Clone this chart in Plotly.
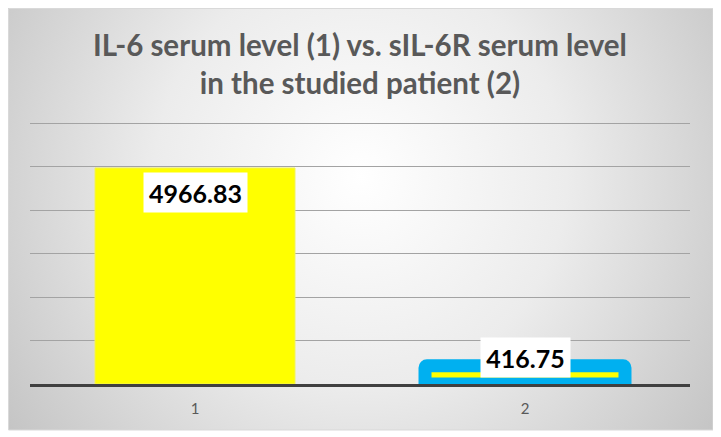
import plotly.graph_objects as go

# data
categories = ["1", "2"]
values = [4966.83, 416.75]
value_labels = ["4966.83", "416.75"]
title_lines = ["IL-6 serum level (1) vs. sIL-6R serum level", "in the studied patient (2)"]

W, H = 721, 437
OFF = 8  # the page body has an 8px margin, so shift everything by it


def px_x(p):
    return (p - OFF) / W


def px_y(p):
    # pixel from top of window -> paper fraction from bottom
    return 1 - (p - OFF) / H


fig = go.Figure()

# background panel with a radial grey gradient (own full-size axes, drawn first)
fig.add_trace(go.Scatter(
    x=[-0.15, 1.15, 1.15, -0.15, -0.15],
    y=[-0.5, -0.5, 1.7, 1.7, -0.5],
    mode="lines", line=dict(width=0), fill="toself",
    fillgradient=dict(type="radial",
                      colorscale=[[0, "#ffffff"], [0.45, "#ececec"], [1, "#c0c0c0"]]),
    hoverinfo="skip", showlegend=False, xaxis="x", yaxis="y",
))

# bars
fig.add_trace(go.Bar(
    x=[categories[0]], y=[values[0]], xaxis="x2", yaxis="y2",
    marker=dict(color="#ffff00", line=dict(color="#f2f25a", width=1)),
    showlegend=False, hoverinfo="x+y",
))
fig.add_trace(go.Bar(
    x=[categories[1]], y=[values[1]], xaxis="x2", yaxis="y2",
    marker=dict(color="#ffff00", line=dict(color="#00b0f0", width=13), cornerradius=2),
    showlegend=False, hoverinfo="x+y",
))

# data labels in white boxes
shifts = [-25, 8]
widths = [103, 89]
for i, (v, t, s, w) in enumerate(zip(values, value_labels, shifts, widths)):
    fig.add_annotation(
        x=i, y=v, xref="x2", yref="y2", text="<b>%s</b>" % t, showarrow=False,
        yshift=s, bgcolor="#ffffff", width=w, height=39, borderpad=0,
        font=dict(family="Lato", size=25, color="#000000"),
    )

# title
fig.add_annotation(
    x=px_x(360), y=px_y(63), xref="paper", yref="paper", yanchor="middle",
    text="<br>".join("<b>%s</b>" % l for l in title_lines),
    showarrow=False, font=dict(family="Lato", size=29.5, color="#595959"),
)

# panel border
fig.add_shape(type="rect", xref="paper", yref="paper",
              x0=px_x(8.5), x1=px_x(713), y0=px_y(430), y1=px_y(8.5),
              line=dict(color="#d9d9d9", width=1), fillcolor="rgba(0,0,0,0)")

fig.update_layout(
    width=W, height=H,
    margin=dict(l=0, r=0, t=0, b=0),
    paper_bgcolor="#ffffff", plot_bgcolor="rgba(0,0,0,0)",
    barmode="overlay", bargap=0.394,
    xaxis=dict(domain=[0, px_x(713)], range=[0, 1], visible=False, fixedrange=True),
    yaxis=dict(domain=[px_y(430), 1], range=[0, 1], visible=False, fixedrange=True),
    xaxis2=dict(domain=[px_x(30), px_x(690)], anchor="y2", showgrid=False,
                range=[-0.5, 1.5], type="category",
                showline=True, linecolor="#404040", linewidth=3,
                tickfont=dict(family="Lato", size=15, color="#595959"), ticks="",
                ticklabelstandoff=9),
    yaxis2=dict(domain=[px_y(384), px_y(384 - 6.3 * 43.5)], anchor="x2", range=[0, 6300],
                dtick=1000, showticklabels=False, gridcolor="#a3a3a3", gridwidth=1,
                zeroline=False),
)

fig.write_html("out.html")
